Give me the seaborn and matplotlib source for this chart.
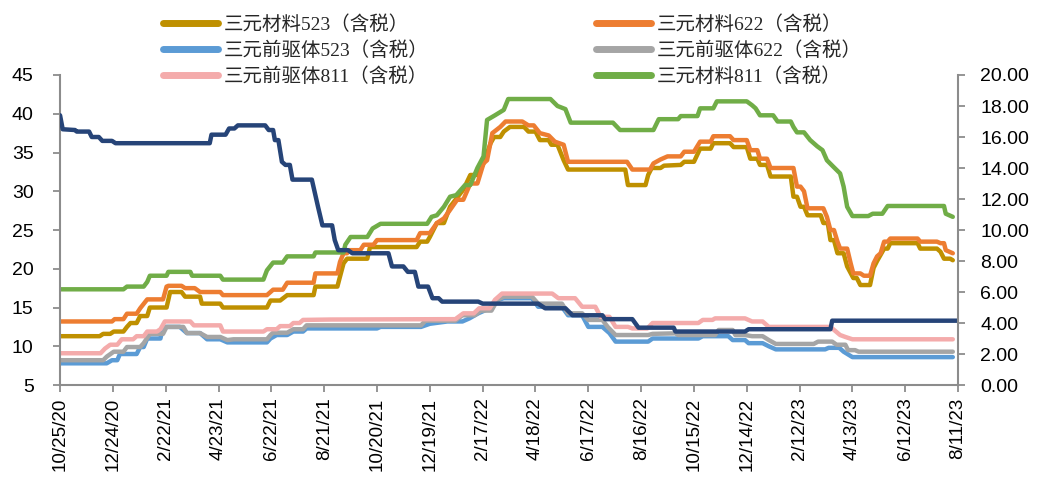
import datetime as dt
import matplotlib
matplotlib.use("Agg")
import matplotlib.pyplot as plt
from matplotlib.lines import Line2D
import pandas as pd
import seaborn as sns

# ---- data: (day offset from 2020-10-25, price) ----
START = dt.date(2020, 10, 25)

mat523_days = [0, 45, 49, 57, 61, 72, 76, 80, 87, 91, 99, 102, 121, 125, 138, 142, 159, 161, 182, 185,
               235, 239, 250, 258, 288, 290, 315, 318, 322, 326, 349, 352, 405, 409, 417, 420, 428, 436,
               443, 458, 466, 474, 481, 489, 493, 500, 504, 511, 527, 532, 540, 545, 555, 558, 565, 572,
               577, 642, 645, 665, 668, 672, 682, 686, 705, 709, 720, 727, 739, 742, 761, 765, 780, 784,
               792, 795, 803, 807, 830, 833, 837, 841, 845, 849, 864, 867, 872, 875, 879, 883, 890, 894,
               901, 905, 909, 920, 924, 928, 936, 940, 943, 974, 977, 996, 1000, 1004, 1011, 1014]
mat523_vals = [11.3, 11.3, 11.6, 11.6, 11.9, 11.9, 12.5, 13.0, 13.0, 13.9, 13.9, 15.0, 15.0, 17.0, 17.0,
               16.4, 16.4, 15.5, 15.5, 15.0, 15.0, 15.9, 15.9, 16.6, 16.6, 17.7, 17.7, 19.0, 20.7, 21.3,
               21.3, 22.8, 22.8, 23.5, 23.5, 24.1, 25.9, 25.9, 28.0, 30.2, 32.1, 32.1, 33.6, 36.2, 37.0,
               37.0, 37.7, 38.3, 38.3, 37.7, 37.7, 36.6, 36.6, 36.0, 36.0, 34.0, 32.8, 32.8, 30.8, 30.8,
               32.1, 33.0, 33.0, 33.3, 33.4, 33.8, 33.8, 35.5, 35.5, 36.2, 36.2, 35.7, 35.7, 34.2, 34.2,
               33.4, 33.4, 31.9, 31.9, 29.3, 29.3, 28.0, 28.0, 26.9, 26.9, 25.9, 25.9, 23.7, 23.7, 22.0,
               22.0, 20.3, 18.8, 18.8, 17.9, 17.9, 20.1, 21.0, 22.6, 22.6, 23.3, 23.3, 22.6, 22.6, 22.2,
               21.3, 21.3, 21.1]

mat622_days = [0, 59, 62, 72, 76, 87, 91, 99, 117, 121, 123, 138, 142, 153, 159, 182, 185, 235, 239, 242,
               253, 258, 288, 290, 315, 318, 322, 326, 328, 341, 345, 356, 360, 405, 409, 420, 428, 436,
               443, 451, 458, 466, 474, 481, 485, 491, 500, 506, 525, 532, 538, 545, 555, 562, 572, 577,
               644, 650, 670, 674, 682, 690, 705, 709, 720, 727, 739, 742, 761, 765, 780, 784, 792, 795,
               803, 807, 833, 837, 841, 845, 849, 867, 871, 875, 879, 883, 886, 894, 898, 901, 909, 913,
               920, 924, 928, 932, 936, 940, 943, 974, 977, 996, 1000, 1004, 1006, 1014]
mat622_vals = [13.2, 13.2, 13.5, 13.5, 14.2, 14.2, 14.9, 16.05, 16.05, 17.7, 17.8, 17.8, 17.5, 17.5, 17.0,
               17.0, 16.6, 16.6, 17.0, 17.3, 17.3, 18.2, 18.2, 19.4, 19.4, 20.9, 22.0, 22.0, 22.4, 22.4,
               23.1, 23.1, 23.7, 23.7, 24.6, 24.6, 25.9, 26.5, 27.6, 28.9, 28.9, 31.0, 31.0, 33.6, 34.0,
               37.5, 38.3, 39.0, 39.0, 38.5, 38.5, 37.5, 37.2, 36.4, 36.0, 33.8, 33.8, 32.8, 32.8, 33.6,
               34.1, 34.5, 34.5, 35.1, 35.1, 36.4, 36.4, 37.1, 37.1, 36.6, 36.6, 35.3, 35.3, 34.2, 34.2,
               33.0, 33.0, 30.6, 30.6, 30.0, 27.8, 27.8, 26.7, 25.0, 25.0, 23.5, 22.6, 22.6, 20.7, 19.4,
               19.4, 19.1, 19.1, 20.7, 21.6, 22.0, 23.5, 23.5, 23.9, 23.9, 23.5, 23.5, 23.3, 23.3, 22.4,
               22.0]

mat811_days = [0, 72, 76, 95, 99, 102, 121, 123, 148, 150, 182, 185, 231, 235, 242, 253, 258, 288, 290,
               322, 324, 330, 349, 355, 364, 417, 422, 428, 436, 443, 450, 460, 466, 474, 481, 485, 494,
               504, 509, 557, 565, 574, 580, 628, 636, 674, 680, 702, 705, 724, 727, 742, 746, 780, 786,
               790, 795, 810, 815, 830, 833, 837, 845, 852, 860, 866, 871, 878, 886, 890, 894, 900, 918,
               923, 934, 940, 1004, 1006, 1014]
mat811_vals = [17.35, 17.35, 17.7, 17.7, 18.3, 19.1, 19.1, 19.6, 19.6, 19.1, 19.1, 18.6, 18.6, 19.8, 20.8,
               20.8, 21.6, 21.6, 22.1, 22.1, 23.1, 24.1, 24.1, 25.2, 25.8, 25.8, 26.7, 26.9, 28.0, 29.3,
               29.5, 30.8, 30.8, 33.0, 34.5, 39.2, 39.8, 40.5, 41.9, 41.9, 41.0, 40.6, 38.85, 38.85, 37.9,
               37.9, 39.3, 39.3, 39.7, 39.7, 40.7, 40.7, 41.6, 41.6, 41.1, 40.7, 39.8, 39.8, 39.0, 39.0,
               38.3, 37.6, 37.6, 36.6, 35.8, 35.3, 34.0, 33.2, 32.3, 30.6, 28.0, 26.8, 26.8, 27.1, 27.1,
               28.1, 28.1, 27.1, 26.7]

pre523_days = [0, 53, 59, 65, 68, 87, 91, 95, 99, 114, 117, 136, 144, 159, 167, 182, 190, 235, 239, 246,
               258, 265, 276, 280, 360, 364, 410, 420, 440, 457, 465, 475, 488, 498, 504, 536, 543, 570,
               577, 593, 600, 616, 624, 631, 668, 673, 725, 730, 759, 764, 778, 782, 798, 805, 813, 869,
               873, 885, 890, 900, 1014]
pre523_vals = [7.8, 7.8, 8.2, 8.2, 9.0, 9.0, 9.9, 9.9, 11.0, 11.0, 12.5, 12.5, 11.7, 11.7, 10.9, 10.9,
               10.5, 10.5, 11.0, 11.45, 11.45, 11.9, 11.9, 12.3, 12.3, 12.5, 12.5, 12.9, 13.2, 13.2, 13.6,
               14.25, 14.9, 16.0, 16.2, 16.2, 15.1, 15.1, 14.0, 14.0, 12.5, 12.5, 11.7, 10.6, 10.6, 11.0,
               11.0, 11.3, 11.3, 10.8, 10.8, 10.4, 10.4, 10.0, 9.6, 9.6, 9.8, 9.8, 9.3, 8.6, 8.6]

pre622_days = [0, 49, 53, 61, 72, 76, 91, 95, 102, 117, 121, 140, 144, 159, 167, 182, 190, 197, 235, 239,
               242, 258, 265, 276, 280, 410, 415, 449, 457, 471, 478, 490, 497, 504, 536, 543, 570, 577,
               593, 600, 616, 622, 631, 668, 673, 699, 702, 744, 748, 764, 767, 778, 786, 798, 805, 813,
               856, 861, 877, 882, 892, 895, 903, 907, 1014]
pre622_vals = [8.2, 8.2, 8.66, 9.3, 9.3, 9.9, 9.9, 10.4, 11.6, 11.6, 12.5, 12.5, 11.7, 11.7, 11.2, 11.2,
               10.8, 10.9, 10.9, 11.45, 11.75, 11.75, 12.2, 12.2, 12.7, 12.7, 13.3, 13.3, 14.0, 14.0, 14.6,
               14.6, 16.0, 16.4, 16.4, 15.5, 15.5, 14.25, 14.25, 13.4, 13.4, 12.5, 11.45, 11.45, 11.6,
               11.67, 11.45, 11.45, 12.1, 12.1, 11.45, 11.45, 11.3, 11.3, 10.8, 10.3, 10.3, 10.6, 10.6,
               10.2, 10.2, 9.5, 9.5, 9.3, 9.3]

pre811_days = [0, 46, 51, 57, 65, 70, 83, 87, 95, 99, 110, 114, 119, 148, 152, 182, 185, 231, 235, 246,
               250, 261, 265, 272, 276, 307, 449, 458, 470, 476, 488, 494, 502, 559, 566, 585, 593, 608,
               614, 624, 631, 645, 650, 667, 673, 725, 730, 741, 744, 778, 786, 798, 805, 875, 886, 892,
               900, 1014]
pre811_vals = [9.1, 9.1, 9.7, 10.2, 10.2, 10.9, 10.9, 11.3, 11.3, 11.9, 11.9, 12.2, 13.2, 13.2, 12.7, 12.7,
               11.9, 11.9, 12.2, 12.2, 12.6, 12.6, 13.0, 13.0, 13.4, 13.45, 13.5, 14.25, 14.25, 14.9, 14.9,
               16.0, 16.8, 16.8, 16.2, 16.2, 15.1, 15.1, 13.8, 13.8, 12.5, 12.5, 12.3, 12.3, 13.0, 13.0,
               13.4, 13.4, 13.6, 13.6, 13.2, 13.2, 12.5, 12.5, 11.45, 11.2, 10.9, 10.9]

# secondary-axis series (right scale)
navy_days = [0, 3, 17, 19, 33, 36, 44, 48, 59, 63, 170, 172, 188, 192, 198, 202, 233, 237, 242, 244, 248,
             252, 256, 261, 264, 286, 290, 293, 298, 309, 312, 316, 327, 332, 373, 377, 390, 395, 403, 407,
             418, 423, 430, 434, 475, 480, 543, 551, 574, 582, 616, 619, 650, 657, 697, 699, 778, 782, 875,
             877, 1019]
navy_vals = [17.4, 16.5, 16.45, 16.35, 16.35, 16.0, 16.0, 15.75, 15.75, 15.6, 15.6, 16.15, 16.15, 16.55,
             16.55, 16.75, 16.75, 16.45, 16.45, 15.8, 15.8, 14.4, 14.2, 14.2, 13.25, 13.25, 12.25, 11.5,
             10.3, 10.3, 9.35, 8.7, 8.7, 8.5, 8.5, 7.65, 7.65, 7.3, 7.3, 6.35, 6.35, 5.6, 5.6, 5.38, 5.38,
             5.25, 5.25, 4.95, 4.95, 4.5, 4.5, 4.25, 4.25, 3.7, 3.7, 3.45, 3.45, 3.6, 3.6, 4.15, 4.15]

labels = {
    "mat523": "三元材料523（含税）",
    "mat622": "三元材料622（含税）",
    "pre523": "三元前驱体523（含税）",
    "pre622": "三元前驱体622（含税）",
    "pre811": "三元前驱体811（含税）",
    "mat811": "三元材料811（含税）",
}
colors = {
    "mat523": "#BF9000",
    "mat622": "#ED7D31",
    "pre523": "#5B9BD5",
    "pre622": "#A5A5A5",
    "pre811": "#F4ABAB",
    "mat811": "#70AD47",
    "navy": "#264478",
}

series = [
    ("mat523", mat523_days, mat523_vals),
    ("mat622", mat622_days, mat622_vals),
    ("pre523", pre523_days, pre523_vals),
    ("pre622", pre622_days, pre622_vals),
    ("pre811", pre811_days, pre811_vals),
    ("mat811", mat811_days, mat811_vals),
]


def to_dates(days):
    return pd.to_datetime([START + dt.timedelta(days=d) for d in days])


sns.set_style("white")
plt.rcParams["font.family"] = ["Liberation Sans", "Noto Sans CJK SC"]
plt.rcParams["axes.unicode_minus"] = False

fig = plt.figure(figsize=(10.48, 4.82), dpi=100)
ax = fig.add_axes([0.0573, 0.2012, 0.8569, 0.6432])
ax2 = ax.twinx()

LW = 3.2
for key, days, vals in series:
    df = pd.DataFrame({"date": to_dates(days), "value": vals})
    sns.lineplot(data=df, x="date", y="value", ax=ax, color=colors[key], linewidth=LW,
                 estimator=None, sort=False, legend=False)

navy_df = pd.DataFrame({"date": to_dates(navy_days), "value": navy_vals})
sns.lineplot(data=navy_df, x="date", y="value", ax=ax2, color=colors["navy"], linewidth=LW,
             estimator=None, sort=False, legend=False)

# axes limits and ticks
tick_dates = pd.date_range(pd.Timestamp(START), periods=18, freq="60D")
ax.set_xlim(tick_dates[0], tick_dates[-1])
ax.set_xticks(tick_dates)
ax.set_xticklabels([f"{d.month}/{d.day}/{d.year % 100:02d}" for d in tick_dates],
                   rotation=90, ha="center", va="top")
ax.set_ylim(5, 45)
ax.set_yticks(range(5, 46, 5))
ax2.set_ylim(0, 20)
ax2.set_yticks(range(0, 21, 2))
ax2.set_yticklabels([f"{v:.2f}" for v in range(0, 21, 2)])

for a in (ax, ax2):
    a.set_xlabel("")
    a.set_ylabel("")
    a.grid(False)
    a.spines["top"].set_visible(False)
    for s in ("left", "right", "bottom"):
        a.spines[s].set_color("#8C8C8C")
        a.spines[s].set_linewidth(1.5)

ax.spines["right"].set_visible(False)
ax2.spines["left"].set_visible(False)
ax2.spines["bottom"].set_visible(False)

ax.tick_params(axis="y", direction="out", length=5, width=1.3, color="#8C8C8C",
               labelsize=14, pad=14, labelcolor="#000000", left=True)
ax.tick_params(axis="x", direction="out", length=5, width=1.3, color="#8C8C8C",
               labelsize=13.5, pad=4, labelcolor="#000000", bottom=True)
ax2.tick_params(axis="y", direction="out", length=5, width=1.3, color="#8C8C8C",
                labelsize=14, pad=11, labelcolor="#000000", right=True)

# legend: two columns, three rows above the plot
order = ["mat523", "pre523", "pre811", "mat622", "pre622", "mat811"]
handles = [Line2D([0], [0], color=colors[k], linewidth=5, solid_capstyle="round") for k in order]
fig.legend(handles, [labels[k] for k in order], ncol=2, frameon=False,
           loc="upper left", bbox_to_anchor=(0.148, 0.985),
           prop={"family": ["Liberation Serif", "Noto Sans CJK SC"], "size": 14},
           handlelength=2.85, handletextpad=0.28, columnspacing=8.6, labelspacing=0.38,
           borderaxespad=0.0)

fig.savefig("out.png", dpi=100)
